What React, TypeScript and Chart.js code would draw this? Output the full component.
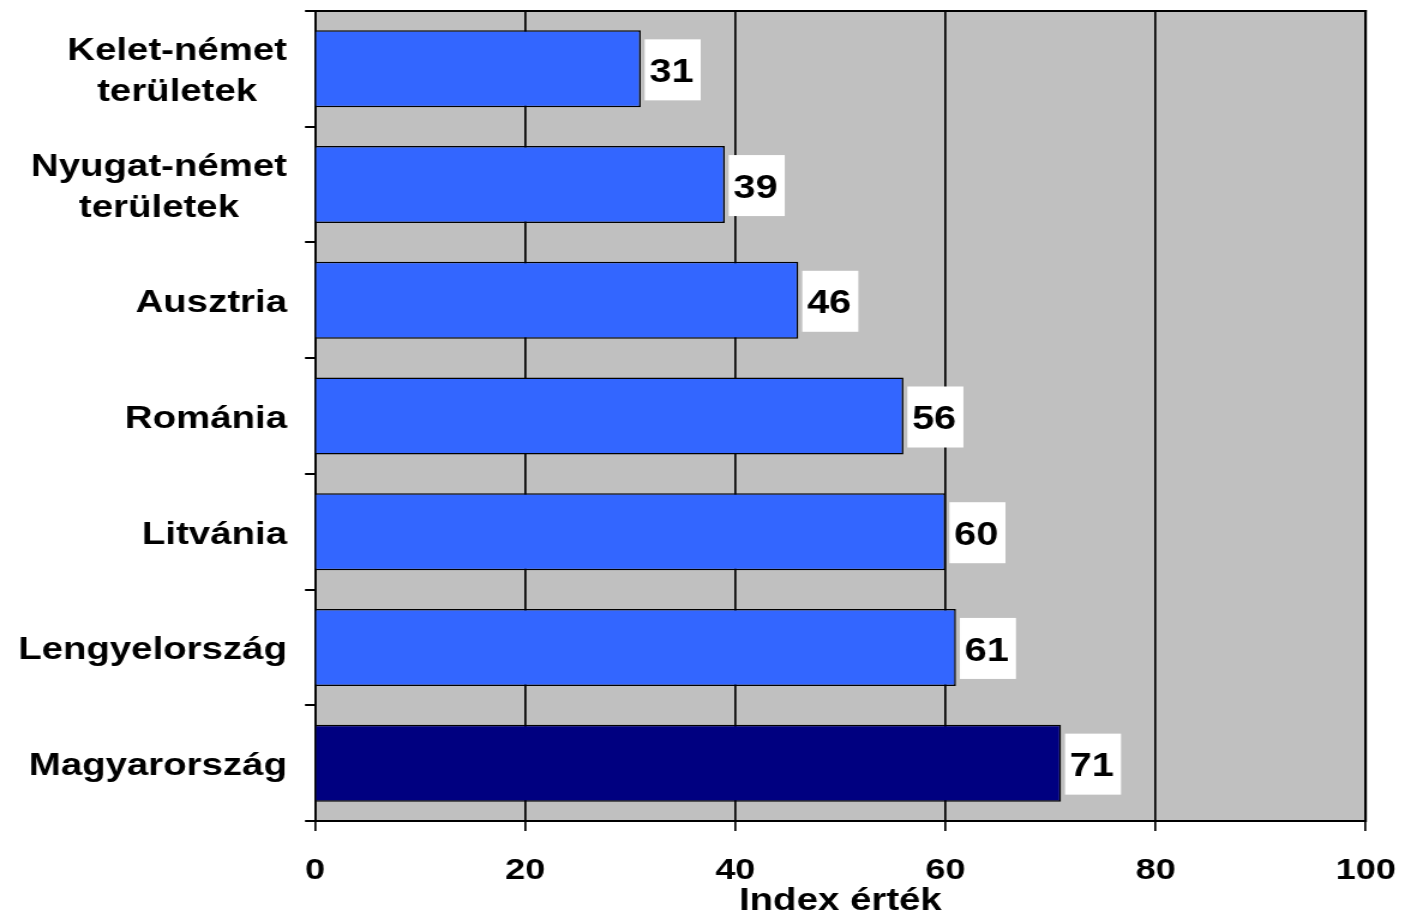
import React, { useEffect, useRef } from 'react';
import { Chart, registerables } from 'chart.js';

Chart.register(...registerables);

// ---- Data ----
const categories: string[][] = [
  ['Kelet-német', 'területek'],
  ['Nyugat-német', 'területek'],
  ['Ausztria'],
  ['Románia'],
  ['Litvánia'],
  ['Lengyelország'],
  ['Magyarország'],
];
const values: number[] = [31, 39, 46, 56, 60, 61, 71];
const barColors: string[] = ['#3366FF', '#3366FF', '#3366FF', '#3366FF', '#3366FF', '#3366FF', '#000080'];
const xTicks: number[] = [0, 20, 40, 60, 80, 100];
const xTitle = 'Index érték';

// ---- Layout (internal drawing width is narrower, stretched horizontally by CSS) ----
const W = 1171;
const H = 917;
const CSS_W = 1405;
const FONT = "'Liberation Sans', Arial, Helvetica, sans-serif";
const PLOT_LEFT = 262.5;
const PLOT_RIGHT = 1138.3;
const Y_TICK_LEN = 8.3;
const Y_LABEL_PAD = 15;

const plotFramePlugin = {
  id: 'plotFrame',
  beforeDraw(chart: any) {
    const { ctx, chartArea: a } = chart;
    ctx.save();
    ctx.fillStyle = '#C0C0C0';
    ctx.fillRect(a.left, a.top, a.right - a.left, a.bottom - a.top);
    ctx.restore();
  },
  afterDraw(chart: any) {
    const { ctx, chartArea: a } = chart;
    ctx.save();
    ctx.fillStyle = '#000';
    ctx.fillRect(a.left, a.top - 1, a.right - a.left + 0.8, 2);
    ctx.fillRect(a.right - 0.8, a.top - 1, 1.7, a.bottom - a.top + 2);
    ctx.restore();
  },
};

const yLabelPlugin = {
  id: 'yLabels',
  afterDraw(chart: any) {
    const { ctx } = chart;
    const ys = chart.scales.y;
    ctx.save();
    ctx.font = `bold 32px ${FONT}`;
    ctx.textAlign = 'center';
    ctx.textBaseline = 'middle';
    ctx.fillStyle = '#000';
    const right = ys.right - Y_TICK_LEN - Y_LABEL_PAD;
    const lh = 41;
    categories.forEach((lines, i) => {
      const y = ys.getPixelForTick(i);
      const maxW = Math.max(...lines.map((l) => ctx.measureText(l).width));
      const cx = right - maxW / 2;
      const y0 = y - ((lines.length - 1) * lh) / 2 + 3;
      lines.forEach((l, j) => ctx.fillText(l, cx, y0 + j * lh));
    });
    ctx.restore();
  },
};

const dataLabelPlugin = {
  id: 'dataLabels',
  afterDatasetsDraw(chart: any) {
    const { ctx } = chart;
    const meta = chart.getDatasetMeta(0);
    ctx.save();
    ctx.font = `bold 33px ${FONT}`;
    meta.data.forEach((bar: any, i: number) => {
      const { x, y } = bar.getProps(['x', 'y'], true);
      const text = String(values[i]);
      const tw = ctx.measureText(text).width;
      const bw = tw + 10;
      const bh = 61;
      const bx = x + 3.3;
      ctx.fillStyle = '#fff';
      ctx.fillRect(bx, y - bh / 2 + 1, bw, bh);
      ctx.textAlign = 'center';
      ctx.textBaseline = 'middle';
      ctx.fillStyle = '#000';
      ctx.fillText(text, bx + bw / 2 - 1, y + 4);
    });
    ctx.restore();
  },
};

export default function App() {
  const canvasRef = useRef<HTMLCanvasElement | null>(null);

  useEffect(() => {
    if (!canvasRef.current) return;
    const chart = new Chart(canvasRef.current, {
      type: 'bar',
      data: {
        labels: categories.map((c) => c.join(' ')),
        datasets: [
          {
            data: values,
            backgroundColor: barColors,
            borderColor: '#000',
            borderWidth: 1.5,
            barPercentage: 0.6655,
            categoryPercentage: 1,
          },
        ],
      },
      options: {
        indexAxis: 'y',
        animation: false,
        responsive: false,
        maintainAspectRatio: false,
        layout: { padding: { top: 11, right: W - PLOT_RIGHT, bottom: 0, left: 0 } },
        plugins: {
          legend: { display: false },
          tooltip: { enabled: false },
          title: { display: false },
        },
        scales: {
          x: {
            type: 'linear',
            position: 'bottom',
            min: 0,
            max: 100,
            afterBuildTicks: (s: any) => {
              s.ticks = xTicks.map((v) => ({ value: v }));
            },
            ticks: {
              padding: 22,
              color: '#000',
              maxRotation: 0,
              autoSkip: false,
              font: { family: FONT, size: 30, weight: 'bold', lineHeight: 1.2 },
            },
            grid: {
              color: '#000',
              lineWidth: 1.7,
              tickLength: 10,
              drawOnChartArea: true,
              drawTicks: true,
            },
            border: { display: true, color: '#000', width: 2 },
            title: {
              display: true,
              text: xTitle,
              color: '#000',
              font: { family: FONT, size: 32, weight: 'bold', lineHeight: 1.0 },
              padding: { top: 0, bottom: 0 },
            },
            afterFit: (s: any) => {
              s.height = 96;
              s.paddingLeft = 0;
              s.paddingRight = 0;
            },
          },
          y: {
            type: 'category',
            position: 'left',
            ticks: { display: false },
            grid: {
              offset: true,
              drawOnChartArea: false,
              drawTicks: true,
              tickLength: Y_TICK_LEN,
              color: '#000',
              lineWidth: 2,
            },
            border: { display: true, color: '#000', width: 1.7 },
            afterFit: (s: any) => {
              s.width = PLOT_LEFT;
              s.paddingTop = 0;
              s.paddingBottom = 0;
            },
          },
        },
      } as any,
      plugins: [plotFramePlugin, dataLabelPlugin, yLabelPlugin],
    });
    return () => chart.destroy();
  }, []);

  return (
    <div style={{ position: 'fixed', left: 0, top: 0, width: CSS_W, height: H, background: '#fff' }}>
      <canvas
        ref={canvasRef}
        width={W}
        height={H}
        style={{ width: `${CSS_W}px`, height: `${H}px`, display: 'block' }}
      />
    </div>
  );
}
